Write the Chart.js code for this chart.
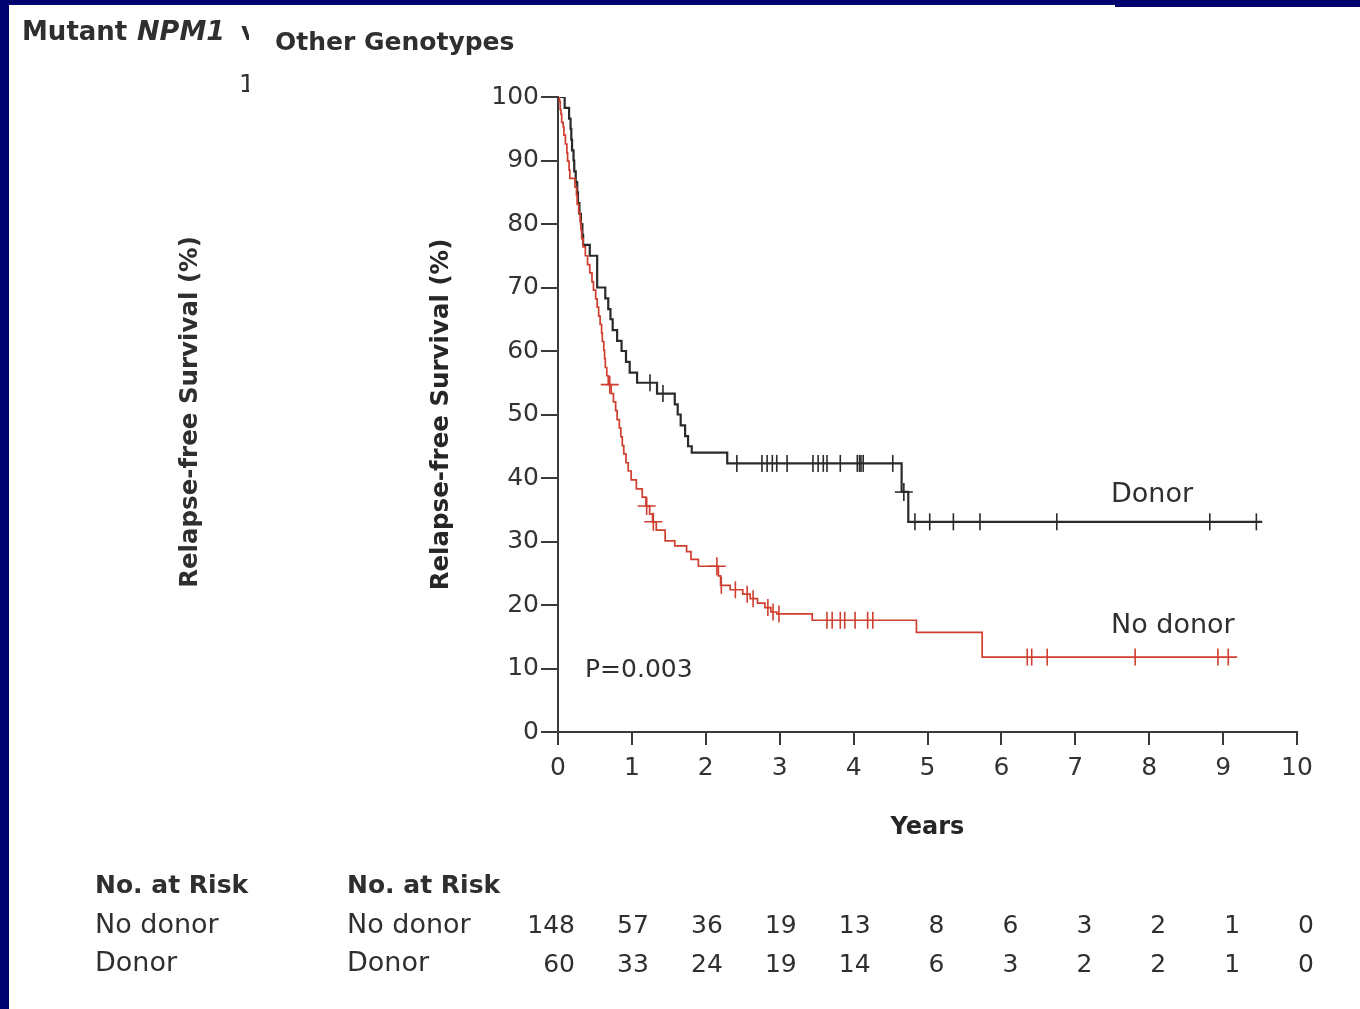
<!DOCTYPE html>
<html><head><meta charset="utf-8">
<script src="https://cdn.jsdelivr.net/npm/chart.js@4.4.1/dist/chart.umd.min.js"></script>
<style>
html,body{margin:0;padding:0;background:#00006e;width:1360px;height:1009px;overflow:hidden}
#panel{position:absolute;left:9px;top:5px;width:1351px;height:1004px;background:#fff}
#strip{position:absolute;left:1115px;top:5px;width:245px;height:2px;background:#00006e}
canvas{position:absolute;left:0;top:0}
</style></head><body>
<div id="panel"></div><div id="strip"></div>
<canvas id="c" width="1360" height="1009"></canvas>
<script>
// ---------- data ----------
const panelTitle = 'Other Genotypes';
const yTitle = 'Relapse-free Survival (%)';
const xTitle = 'Years';
const xTickValues = [0,1,2,3,4,5,6,7,8,9,10];
const yTickValues = [0,10,20,30,40,50,60,70,80,90,100];

// Donor (black) Kaplan-Meier steps: time (years), survival (%)
const donorT = [0,0.09,0.15,0.17,0.18,0.19,0.21,0.22,0.24,0.26,0.27,0.29,0.31,0.33,0.34,0.43,0.53,0.64,0.68,0.71,0.74,0.80,0.86,0.92,0.97,1.07,1.34,1.58,1.62,1.66,1.72,1.76,1.81,2.29,4.65,4.74,9.53];
const donorS = [100,98.3,96.6,95.0,93.3,91.6,90.0,88.3,86.6,85.0,83.3,81.6,80.0,78.3,76.7,75.0,70.0,68.3,66.6,65.0,63.3,61.6,60.0,58.3,56.6,55.0,53.3,51.6,50.0,48.3,46.6,45.0,44.0,42.3,37.8,33.1,33.1];
const donorCensorT = [1.245,1.42,2.42,2.76,2.83,2.90,2.96,3.10,3.45,3.52,3.59,3.64,3.82,4.05,4.08,4.10,4.13,4.53,4.83,5.03,5.35,5.71,6.75,8.82,9.45];
const donorCrossT = [4.68];

// No donor (red) Kaplan-Meier steps
const noDonorT = [0,0.02,0.03,0.04,0.05,0.07,0.08,0.10,0.12,0.13,0.15,0.16,0.23,0.25,0.26,0.28,0.30,0.31,0.32,0.34,0.37,0.40,0.43,0.46,0.48,0.51,0.53,0.55,0.57,0.59,0.60,0.62,0.63,0.64,0.66,0.68,0.72,0.75,0.78,0.80,0.83,0.85,0.87,0.89,0.92,0.95,0.99,1.06,1.14,1.19,1.24,1.28,1.33,1.45,1.58,1.74,1.80,1.90,2.17,2.20,2.33,2.50,2.60,2.70,2.80,2.88,2.96,3.44,4.85,5.74,9.19];
const noDonorS = [100,99.3,98.0,97.3,96.0,95.3,94.0,92.6,91.2,89.9,88.5,87.2,85.8,84.5,83.1,81.8,80.4,79.1,77.7,76.4,75.0,73.6,72.3,70.9,69.6,68.2,66.9,65.5,64.2,62.8,61.5,60.1,58.8,57.4,56.1,54.7,53.3,52.0,50.6,49.2,47.9,46.5,45.1,43.8,42.4,41.1,39.7,38.3,37.0,35.6,34.3,33.1,31.8,30.1,29.3,28.4,27.2,26.1,24.6,23.1,22.4,21.7,21.0,20.3,19.6,18.9,18.6,17.6,15.7,11.8,11.8];
const noDonorCensorT = [2.21,2.40,2.56,2.64,2.84,2.91,2.99,3.64,3.71,3.82,3.88,4.02,4.19,4.26,6.35,6.41,6.62,7.81,8.93,9.07];
const noDonorCrossT = [0.70,1.20,1.29,2.15];

// Numbers at risk
const riskYears = [0,1,2,3,4,5,6,7,8,9,10];
const riskNoDonor = [148,57,36,19,13,8,6,3,2,1,0];
const riskDonor = [60,33,24,19,14,6,3,2,2,1,0];
const pValueText = 'P=0.003';

// ---------- helpers ----------
const FONT = '"DejaVu Sans", sans-serif';
const TXT = '#2f2f2f';
const RED = '#cf3e2e';
const BLACK = '#2a2a2a';
function toPts(T,S){ return T.map((t,i)=>({x:t,y:S[i]})); }
function survAt(T,S,t){ let s=S[0]; for(let i=0;i<T.length;i++){ if(T[i]<=t) s=S[i]; else break; } return s; }
function censorPts(T,S,C){ return C.map(t=>({x:t,y:survAt(T,S,t)})); }

const annot = {
  id:'annot',
  afterDraw(chart){
    const ctx = chart.ctx, xs = chart.scales.x;
    ctx.save();
    ctx.fillStyle = TXT; ctx.textBaseline = 'middle'; ctx.textAlign = 'left';
    ctx.font = 'bold 25px ' + FONT;
    ctx.fillText(panelTitle, 275, 43);

    // overlapped left panel (clipped)
    ctx.save();
    ctx.beginPath(); ctx.rect(0,0,249,1009); ctx.clip();
    ctx.font = 'bold 26px ' + FONT; ctx.fillText('Mutant', 22, 33);
    ctx.font = 'italic bold 27px ' + FONT; ctx.fillText('NPM1', 137, 33);
    ctx.font = 'bold 25px ' + FONT; ctx.fillText('vs.', 241, 33);
    ctx.font = '25px ' + FONT; ctx.fillText('100', 239, 85);
    ctx.font = 'bold 25px ' + FONT; ctx.fillText('No. at Risk', 95, 886);
    ctx.font = '27px ' + FONT; ctx.fillText('No donor', 95, 926); ctx.fillText('Donor', 95, 964);
    ctx.save(); ctx.translate(191, 412); ctx.rotate(-Math.PI/2);
    ctx.textAlign='center'; ctx.font = 'bold 24.5px ' + FONT; ctx.fillText(yTitle, 0, 0);
    ctx.restore();
    ctx.restore();

    // curve labels
    ctx.font = '27px ' + FONT;
    ctx.fillText('Donor', 1111, 495);
    ctx.fillText('No donor', 1111, 626);
    ctx.font = '25px ' + FONT;
    ctx.fillText(pValueText, 585, 670);

    // number at risk table
    ctx.font = 'bold 25px ' + FONT; ctx.fillText('No. at Risk', 347, 886);
    ctx.font = '27px ' + FONT; ctx.fillText('No donor', 347, 926); ctx.fillText('Donor', 347, 964);
    ctx.font = '25px ' + FONT; ctx.textAlign = 'right';
    riskYears.forEach((yr,i)=>{
      const px = xs.getPixelForValue(yr) + 17;
      ctx.fillText(String(riskNoDonor[i]), px, 926);
      ctx.fillText(String(riskDonor[i]), px, 965);
    });
    ctx.restore();
  }
};

const tickDS = (data,color)=>({type:'line',data,showLine:false,pointStyle:'line',rotation:90,pointRadius:8.5,pointBorderColor:color,pointBorderWidth:1.6,pointBackgroundColor:color,borderColor:color});
const crossDS = (data,color)=>({type:'line',data,showLine:false,pointStyle:'cross',pointRadius:9,pointBorderColor:color,pointBorderWidth:1.6,borderColor:color});

new Chart(document.getElementById('c'), {
  type:'line',
  data:{ datasets:[
    {data:toPts(noDonorT,noDonorS),borderColor:RED,borderWidth:1.7,stepped:true,pointRadius:0,fill:false},
    {data:toPts(donorT,donorS),borderColor:BLACK,borderWidth:2.2,stepped:true,pointRadius:0,fill:false},
    tickDS(censorPts(noDonorT,noDonorS,noDonorCensorT),RED),
    crossDS(censorPts(noDonorT,noDonorS,noDonorCrossT),RED),
    tickDS(censorPts(donorT,donorS,donorCensorT),BLACK),
    crossDS(censorPts(donorT,donorS,donorCrossT),BLACK)
  ]},
  options:{
    responsive:false, animation:false, devicePixelRatio:1, events:[],
    layout:{padding:{left:300,top:97,right:63,bottom:150}},
    plugins:{legend:{display:false},tooltip:{enabled:false}},
    scales:{
      x:{type:'linear',min:0,max:10,
        afterBuildTicks:s=>{s.ticks=xTickValues.map(v=>({value:v}));},
        afterFit:s=>{s.height=127;},
        ticks:{font:{family:FONT,size:25},color:'#333',padding:8,maxRotation:0,autoSkip:false},
        grid:{drawOnChartArea:false,drawTicks:true,tickLength:13,color:'#3a3a3a',lineWidth:2},
        border:{color:'#3a3a3a',width:2},
        title:{display:true,text:xTitle,color:'#262626',font:{family:FONT,size:24,weight:'bold'},padding:{top:0,bottom:17}}
      },
      y:{type:'linear',min:0,max:100,
        afterBuildTicks:s=>{s.ticks=yTickValues.map(v=>({value:v}));},
        afterFit:s=>{s.width=258;},
        ticks:{font:{family:FONT,size:25},color:'#333',padding:2,autoSkip:false},
        grid:{drawOnChartArea:false,drawTicks:true,tickLength:17,color:'#3a3a3a',lineWidth:2},
        border:{color:'#3a3a3a',width:2},
        title:{display:true,text:yTitle,color:'#262626',font:{family:FONT,size:24.5,weight:'bold'},padding:{top:127,bottom:0}}
      }
    }
  },
  plugins:[annot]
});
</script>
</body></html>
